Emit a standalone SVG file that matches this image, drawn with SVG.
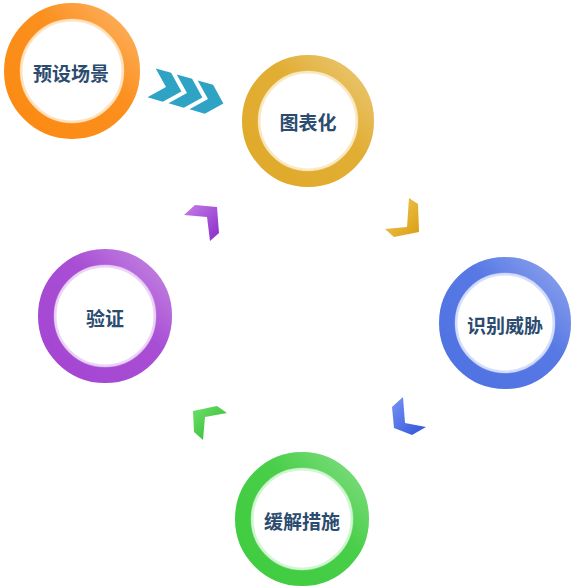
<svg xmlns="http://www.w3.org/2000/svg" width="573" height="587" viewBox="0 0 573 587">
<defs>
<linearGradient id="shine" x1="1" y1="0" x2="0" y2="1">
<stop offset="0" stop-color="#fff" stop-opacity="0.35"/>
<stop offset="0.4" stop-color="#fff" stop-opacity="0.05"/>
<stop offset="1" stop-color="#fff" stop-opacity="0"/>
</linearGradient>
<linearGradient id="gPurple" x1="0" y1="0" x2="1" y2="1"><stop offset="0" stop-color="#c47ee8"/><stop offset="1" stop-color="#8a2cc8"/></linearGradient>
<linearGradient id="gYellow" x1="0" y1="0" x2="1" y2="1"><stop offset="0" stop-color="#f3cc60"/><stop offset="1" stop-color="#d99e10"/></linearGradient>
<linearGradient id="gBlue" x1="0" y1="0" x2="1" y2="1"><stop offset="0" stop-color="#7894f5"/><stop offset="1" stop-color="#2f52d8"/></linearGradient>
<linearGradient id="gGreen" x1="0" y1="0" x2="1" y2="1"><stop offset="0" stop-color="#6ee06a"/><stop offset="1" stop-color="#2cb52c"/></linearGradient>
</defs>
<style>
.ring{fill:#fff;stroke-width:16}
.inner{fill:none;stroke-width:3;stroke-opacity:0.5}
.gloss{fill:none;stroke:url(#shine);stroke-width:16}
.lbl{font-family:"Noto Sans CJK SC","Noto Sans",sans-serif;font-weight:bold;font-size:19px;fill:#2b4b6f;text-anchor:middle;dominant-baseline:central}
.chev{fill:#2fa3c4}
</style>
<rect width="573" height="587" fill="#fff"/>

<g id="node-preset">
<circle class="ring" cx="72" cy="71" r="60" stroke="#fb8a12"/>
<circle class="inner" cx="72" cy="71" r="51" stroke="#ffc680"/>
<circle class="gloss" cx="72" cy="71" r="60"/>
<text class="lbl" x="71" y="72">预设场景</text>
</g>

<g id="node-chart">
<circle class="ring" cx="308" cy="121" r="58" stroke="#e0aa2a"/>
<circle class="inner" cx="308" cy="121" r="49" stroke="#f3d488"/>
<circle class="gloss" cx="308" cy="121" r="58"/>
<text class="lbl" x="308" y="121">图表化</text>
</g>

<g id="node-identify">
<circle class="ring" cx="505" cy="323" r="58" stroke="#4f72e3"/>
<circle class="inner" cx="505" cy="323" r="49" stroke="#a9bdf5"/>
<circle class="gloss" cx="505" cy="323" r="58"/>
<text class="lbl" x="505" y="324">识别威胁</text>
</g>

<g id="node-mitigate">
<circle class="ring" cx="302" cy="519" r="59" stroke="#3fcc3f"/>
<circle class="inner" cx="302" cy="519" r="50" stroke="#a5eca5"/>
<circle class="gloss" cx="302" cy="519" r="59"/>
<text class="lbl" x="302" y="520">缓解措施</text>
</g>

<g id="node-verify">
<circle class="ring" cx="105" cy="316" r="59" stroke="#a445d2"/>
<circle class="inner" cx="105" cy="316" r="50" stroke="#d8a8ee"/>
<circle class="gloss" cx="105" cy="316" r="59"/>
<text class="lbl" x="105" y="317">验证</text>
</g>

<g id="connectors">
<g id="chevrons">
<path class="chev" d="M-15,-15 L1,-15 L16,0 L1,15 L-15,15 L0,0 Z" transform="translate(166,87) rotate(16)"/>
<path class="chev" d="M-15,-15 L1,-15 L16,0 L1,15 L-15,15 L0,0 Z" transform="translate(187,93) rotate(16)"/>
<path class="chev" d="M-15,-15 L1,-15 L16,0 L1,15 L-15,15 L0,0 Z" transform="translate(208,99) rotate(16)"/>
</g>
<path fill="url(#gYellow)" d="M409,198 L418,204 L419,232 L394,237 L385,229 L407,227 Z"/>
<path fill="url(#gBlue)" d="M403,397 L392,407 L394,428 L412,435 L426,427 L405,423 Z"/>
<path fill="url(#gGreen)" d="M193,411 L217,406 L227,413 L205,417 L203,440 L194,432 Z"/>
<path fill="url(#gPurple)" d="M184,215 L195,205 L217,207 L219,233 L210,241 L207,217 Z"/>
</g>
</svg>
